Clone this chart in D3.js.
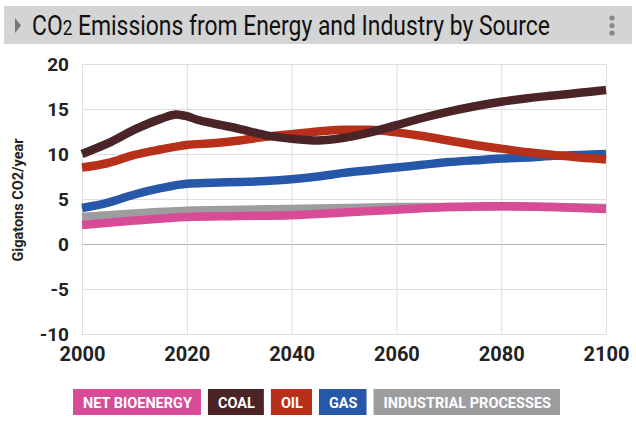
<!DOCTYPE html>
<html>
<head>
<meta charset="utf-8">
<script src="https://cdn.jsdelivr.net/npm/d3@7"></script>
<style>
  body { margin: 0; background: #fff; }
  text { font-family: Roboto, "Noto Sans", sans-serif; }
</style>
</head>
<body>
<div id="chart"></div>
<script>
// data (Gt CO2 / year)
const coalYears = [2000, 2005, 2010, 2015, 2018, 2020, 2022, 2025, 2030, 2035, 2040, 2045, 2050, 2055, 2060, 2065, 2070, 2075, 2080, 2085, 2090, 2095, 2100]
const coalValues = [10.0, 11.2, 12.7, 13.9, 14.4, 14.2, 13.8, 13.4, 12.8, 12.1, 11.7, 11.5, 11.8, 12.4, 13.2, 14.0, 14.7, 15.3, 15.8, 16.2, 16.5, 16.8, 17.1]

const fiveYears = [2000, 2005, 2010, 2015, 2020, 2025, 2030, 2035, 2040, 2045, 2050, 2055, 2060, 2065, 2070, 2075, 2080, 2085, 2090, 2095, 2100]
const oilValues = [8.5, 9.0, 9.9, 10.5, 11.0, 11.2, 11.5, 11.9, 12.2, 12.5, 12.7, 12.7, 12.4, 12.0, 11.5, 11.0, 10.6, 10.2, 9.9, 9.6, 9.4]
const gasValues = [4.0, 4.6, 5.5, 6.2, 6.7, 6.8, 6.9, 7.0, 7.2, 7.5, 7.9, 8.2, 8.5, 8.8, 9.1, 9.3, 9.5, 9.6, 9.8, 9.9, 10.0]

const tenYears = [2000, 2010, 2020, 2030, 2040, 2050, 2060, 2070, 2080, 2090, 2100]
const industryValues = [3.0, 3.4, 3.7, 3.8, 3.9, 4.0, 4.1, 4.1, 4.2, 4.1, 4.0]
const bioValues = [2.1, 2.6, 3.0, 3.1, 3.2, 3.5, 3.8, 4.1, 4.2, 4.1, 3.9]

const seriesNames = ["NET BIOENERGY", "COAL", "OIL", "GAS", "INDUSTRIAL PROCESSES"]
const seriesColors = ["#d84b97", "#4b2428", "#b9301a", "#2757a8", "#9d9da0"]

const xTicks = [2000, 2020, 2040, 2060, 2080, 2100]
const yTicks = [-10, -5, 0, 5, 10, 15, 20]

function zip(years, values) {
    return years.map(function(y, i) { return {year: y, value: values[i]} })
}

// drawn bottom-up: last one sits on top
const series = [
    {name: "INDUSTRIAL PROCESSES", data: zip(tenYears, industryValues)},
    {name: "GAS", data: zip(fiveYears, gasValues)},
    {name: "OIL", data: zip(fiveYears, oilValues)},
    {name: "COAL", data: zip(coalYears, coalValues)},
    {name: "NET BIOENERGY", data: zip(tenYears, bioValues)}
]

let W = 636, H = 422
let margin = {top: 64, right: 30, bottom: 88, left: 82}
let width = W - margin.left - margin.right,
    height = H - margin.top - margin.bottom

let svg = d3.select("#chart")
            .append('svg')
            .attr('width', W)
            .attr('height', H)

let color = d3.scaleOrdinal().domain(seriesNames).range(seriesColors)

// squeeze a text horizontally so it spans `target` pixels (condensed look)
function squeeze(sel, px, py, target) {
    let w = sel.node().getBBox().width
    sel.attr('transform', "translate(" + px + "," + py + ") scale(" + (target / w) + ",1)")
}

// title bar
svg.append('rect')
   .attr('x', 4).attr('y', 6)
   .attr('width', 628).attr('height', 38)
   .attr('fill', '#d4d4d4')
svg.append('path')
   .attr('d', "M15,18 L21,25.5 L15,33 Z")
   .attr('fill', '#777')
let title = svg.append('text')
   .attr('font-size', 28)
   .attr('fill', '#111')
title.append('tspan').text("CO")
title.append('tspan').attr('font-size', 21).text("2")
title.append('tspan').text(" Emissions from Energy and Industry by Source")
squeeze(title, 32, 35, 518)

svg.selectAll('.dot')
   .data([18, 25.5, 33])
   .enter()
   .append('circle')
   .attr('cx', 612).attr('cy', function(d) { return d })
   .attr('r', 2.6)
   .attr('fill', '#888')

let g = svg.append('g')
           .attr('transform', "translate(" + margin.left + "," + margin.top + ")")

let x = d3.scaleLinear().domain([2000, 2100]).range([0, width])
let y = d3.scaleLinear().domain([-10, 20]).range([height, 0])

// grid
g.append('g')
 .call(d3.axisLeft(y).tickValues(yTicks).tickSize(-width).tickFormat(""))
 .call(function(a) {
     a.select('.domain').remove()
     a.selectAll('line').attr('stroke', function(d) { return d === 0 ? '#b5b5b5' : '#dedede' })
 })
g.append('g')
 .call(d3.axisBottom(x).tickValues(xTicks).tickSize(height).tickFormat(""))
 .call(function(a) {
     a.select('.domain').remove()
     a.selectAll('line').attr('stroke', '#dedede')
 })

// y tick labels
g.append('g')
 .call(d3.axisLeft(y).tickValues(yTicks).tickSize(0).tickPadding(13)
         .tickFormat(function(d) { return String(d) }))
 .call(function(a) {
     a.select('.domain').remove()
     a.selectAll('text')
      .attr('font-size', 19).attr('font-weight', 'bold')
      .attr('fill', '#222')
      .attr('font-family', 'Roboto, sans-serif')
 })

// x tick labels
g.append('g')
 .attr('transform', "translate(0," + height + ")")
 .call(d3.axisBottom(x).tickValues(xTicks).tickSize(0).tickPadding(13).tickFormat(d3.format("d")))
 .call(function(a) {
     a.select('.domain').remove()
     a.selectAll('text')
      .attr('font-size', 20).attr('font-weight', 'bold')
      .attr('fill', '#222')
      .attr('font-family', 'Roboto, sans-serif')
 })

// y axis title
svg.append('text')
   .attr('transform', "translate(23,200) rotate(-90)")
   .attr('text-anchor', 'middle')
   .attr('font-size', 14.5)
   .attr('font-weight', 'bold')
   .attr('fill', '#222')
   .text("Gigatons CO2/year")

// lines
let line = d3.line()
             .x(function(d) { return x(d.year) })
             .y(function(d) { return y(d.value) })
             .curve(d3.curveMonotoneX)

g.selectAll('.series')
 .data(series)
 .enter()
 .append('path')
 .attr('class', 'series')
 .attr('d', function(d) { return line(d.data) })
 .attr('fill', 'none')
 .attr('stroke', function(d) { return color(d.name) })
 .attr('stroke-width', 8.5)

// legend
let legend = svg.append('g')
let lx = 73
seriesNames.forEach(function(name) {
    let item = legend.append('g').attr('transform', "translate(" + lx + ",389)")
    let box = item.append('rect').attr('height', 26).attr('fill', color(name))
    let t = item.append('text')
                .attr('x', 10).attr('y', 18.5)
                .attr('font-size', 14.5)
                .attr('font-weight', 'bold')
                .attr('fill', '#fff')
                .text(name)
    let w = t.node().getComputedTextLength() + 19
    box.attr('width', w)
    lx += w + 7
})
</script>
</body>
</html>
